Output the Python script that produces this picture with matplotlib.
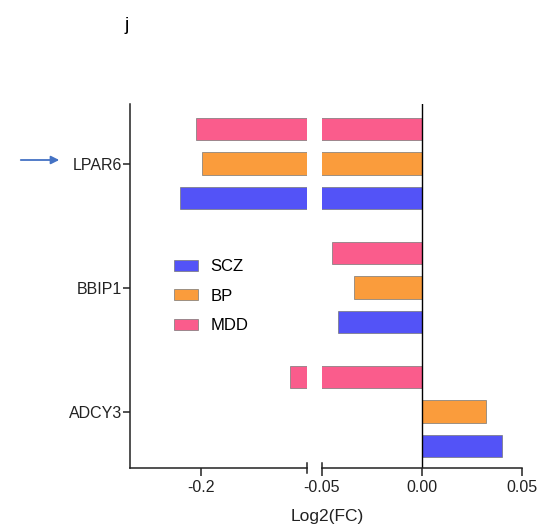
import matplotlib
matplotlib.use("Agg")
import matplotlib.pyplot as plt
from matplotlib.patches import Patch, FancyArrowPatch

plt.rcParams["font.family"] = ["Liberation Sans", "DejaVu Sans"]

# data
genes = ["ADCY3", "BBIP1", "LPAR6"]
scz = [0.040, -0.0417, -0.228]
bp = [0.032, -0.034, -0.199]
mdd = [-0.0825, -0.045, -0.2067]
series = ["SCZ", "BP", "MDD"]
colors = {"SCZ": "#5353F7", "BP": "#FA9C3C", "MDD": "#FA5C8C"}

group_pos = [0, 3.6, 7.2]
offsets = {"SCZ": -1, "BP": 0, "MDD": 1}
values = {"SCZ": scz, "BP": bp, "MDD": mdd}

W, H = 552, 527
fig = plt.figure(figsize=(W / 100, H / 100), dpi=100)

bot = 1 - 468 / H
top = 1 - 104 / H
axL = fig.add_axes([130 / W, bot, (307 - 130) / W, top - bot])
axR = fig.add_axes([321.7 / W, bot, (521.7 - 321.7) / W, top - bot])

for ax in (axL, axR):
    for name in series:
        ys = [g + offsets[name] for g in group_pos]
        ax.barh(ys, values[name], height=0.65, color=colors[name],
                edgecolor="#777777", linewidth=0.5)
    ax.set_ylim(-1.64, 8.93)
    ax.spines["top"].set_visible(False)
    ax.spines["right"].set_visible(False)
    ax.spines["bottom"].set_linewidth(1.1)
    ax.spines["bottom"].set_color("#222222")
    ax.tick_params(axis="x", length=5.5, width=1.1, labelsize=11.5,
                   pad=3.5, colors="#222222")

axL.set_xlim(-0.294, -0.06)
axL.set_xticks([-0.2])
axL.set_xticklabels(["-0.2"])
axL.spines["left"].set_linewidth(1.1)
axL.spines["left"].set_color("#222222")
axL.set_yticks(group_pos)
axL.set_yticklabels(genes)
axL.tick_params(axis="y", length=5, width=1.1, labelsize=11.5, pad=0.5,
                colors="#222222")

axR.set_xlim(-0.05, 0.05)
axR.set_xticks([-0.05, 0.0, 0.05])
axR.set_xticklabels(["-0.05", "0.00", "0.05"])
axR.spines["left"].set_visible(False)
axR.set_yticks([])
axR.axvline(0, color="black", linewidth=1.0)

# break marks
axL.plot([1, 1], [-0.014, 0.014], transform=axL.transAxes, color="#222222",
         lw=1.1, clip_on=False)
axR.plot([0, 0], [0, 0.014], transform=axR.transAxes, color="#222222",
         lw=1.1, clip_on=False)

fig.text(327 / W, 1 - 517 / H, "Log2(FC)", ha="center", va="center",
         fontsize=12.5, color="#222222")
fig.text(127 / W, 1 - 25 / H, "j", ha="center", va="center", fontsize=14)

handles = [Patch(facecolor=colors[s], edgecolor="#777777", linewidth=0.5,
                 label=s) for s in series]
fig.legend(handles=handles, loc="upper left",
           bbox_to_anchor=(174 / W, 1 - 259 / H), bbox_transform=fig.transFigure,
           frameon=False, fontsize=12, handlelength=1.45, handleheight=0.65,
           handletextpad=0.75, labelspacing=0.88, borderpad=0, borderaxespad=0)

fig.patches.append(FancyArrowPatch(
    (18 / W, 1 - 160 / H), (62 / W, 1 - 160 / H), transform=fig.transFigure,
    arrowstyle="-|>", mutation_scale=12, color="#4472C4", lw=1.3))

fig.savefig("out.png", dpi=100)
